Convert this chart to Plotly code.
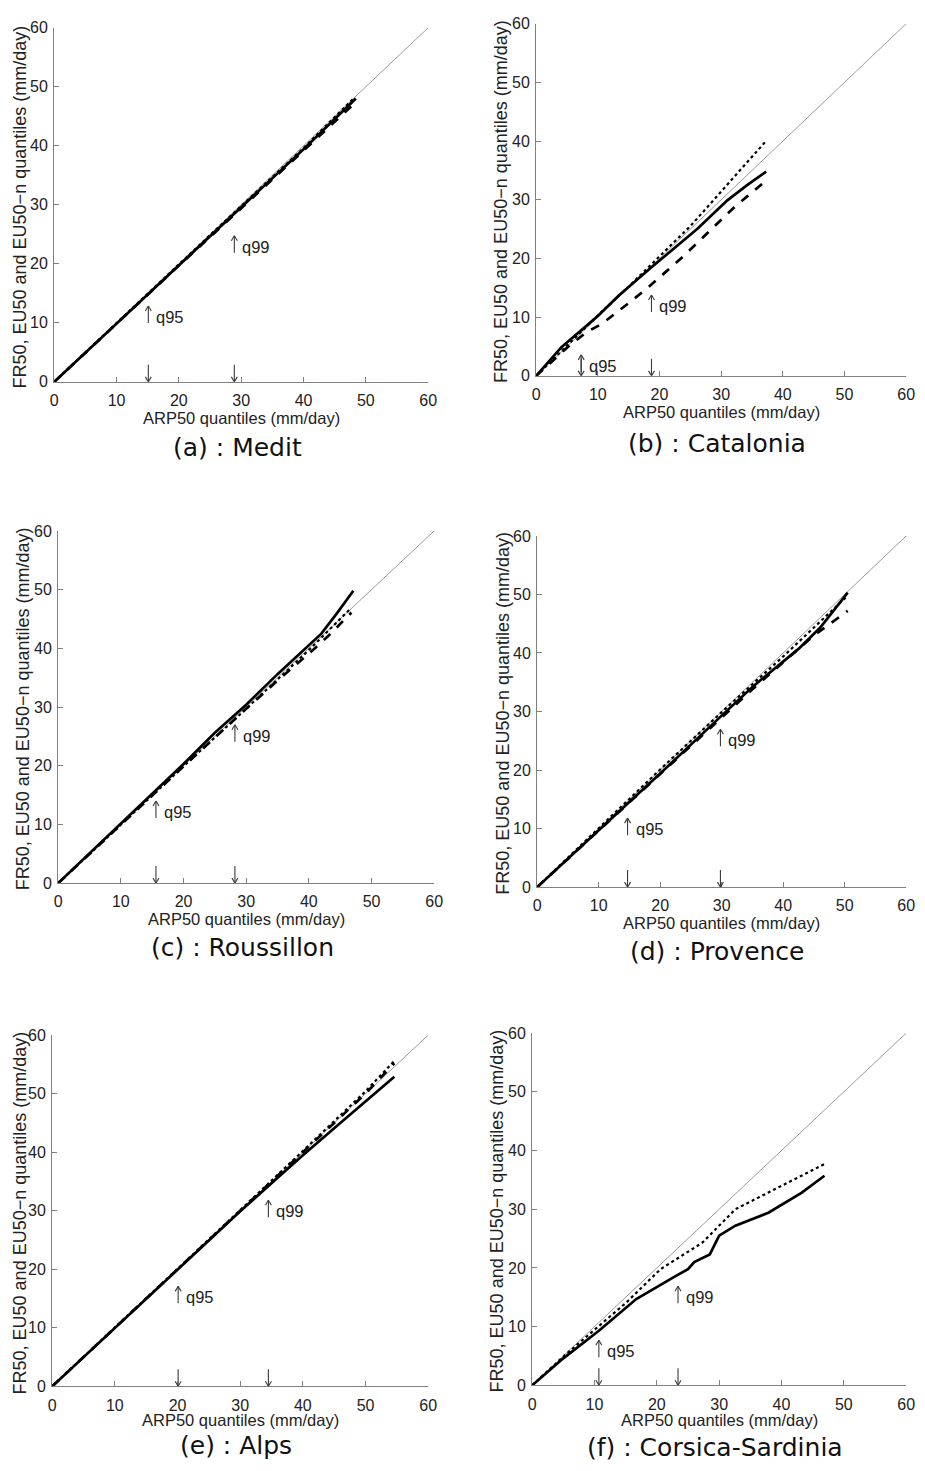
import plotly.graph_objects as go

W, H = 925, 1471
# observed mapping of figure pixels to the photographed page (offset + slight scale);
# layout targets below are given in photographed-page pixels and converted back.
SX, OX = 0.986, 11.8
SY, OY = 0.988, 17.3

# ---------------- data ----------------
captions = ["(a) : Medit", "(b) : Catalonia", "(c) : Roussillon",
            "(d) : Provence", "(e) : Alps", "(f) : Corsica-Sardinia"]
tick_vals = [0, 10, 20, 30, 40, 50, 60]
diag = [0, 60]

medit_fr50_x = [0, 10, 20, 30, 40, 48.4]
medit_fr50_y = [0, 9.9, 19.8, 29.6, 39.4, 48.0]
medit_eu50_x = [0, 10, 20, 30, 40, 48.4]
medit_eu50_y = [0, 9.9, 19.7, 29.4, 39.1, 47.4]
medit_eu50n_x = [0, 10, 20, 30, 40, 48.2]
medit_eu50n_y = [0, 10.0, 19.9, 29.8, 39.6, 48.2]

cat_fr50_x = [0, 4.1, 10, 13.4, 18.7, 23, 26.2, 31, 34.1, 37.3]
cat_fr50_y = [0, 4.9, 10.2, 13.7, 18.5, 22.2, 25.1, 29.9, 32.4, 34.8]
cat_eu50_x = [0, 5, 8.1, 10.7, 15, 18.2, 24, 29.4, 32, 37.3]
cat_eu50_y = [0, 4.8, 7.4, 8.9, 12.4, 15.1, 20.5, 25.9, 28.6, 33.3]
cat_eu50n_x = [0, 5, 10, 15, 20, 25, 29.4, 33, 37.1]
cat_eu50n_y = [0, 5.1, 10.3, 15.2, 20.3, 25.5, 30.7, 35.0, 39.8]

rou_fr50_x = [0, 10, 20, 25, 30, 35, 40, 42, 44.5, 47.1]
rou_fr50_y = [0, 10.2, 20.3, 25.6, 30.4, 35.6, 40.5, 42.5, 46.0, 49.8]
rou_eu50_x = [0, 10, 20, 30, 35, 40, 43, 46.8]
rou_eu50_y = [0, 10.0, 19.9, 29.7, 34.5, 39.1, 42.0, 46.1]
rou_eu50n_x = [0, 10, 20, 30, 40, 46.5]
rou_eu50n_y = [0, 10.0, 19.9, 29.7, 39.7, 46.6]

pro_fr50_x = [0, 10, 20, 30, 35, 42.5, 46, 50.5]
pro_fr50_y = [0, 9.7, 19.4, 29.3, 34.2, 40.7, 44.3, 50.3]
pro_eu50_x = [0, 10, 20, 30, 35, 40, 45, 50.5]
pro_eu50_y = [0, 9.7, 19.3, 29.1, 33.8, 38.4, 43.0, 47.2]
pro_eu50n_x = [0, 10, 20, 30, 40, 50.3]
pro_eu50n_y = [0, 10.1, 20.1, 29.9, 39.4, 49.6]

alp_fr50_x = [0, 10, 20, 30, 35, 40, 45, 50, 54.6]
alp_fr50_y = [0, 10.0, 20.0, 29.9, 34.7, 39.5, 44.1, 48.6, 52.9]
alp_eu50_x = [0, 10, 20, 30, 40, 45, 50, 54.6]
alp_eu50_y = [0, 10.0, 20.0, 30.0, 40.0, 45.0, 50.0, 55.2]
alp_eu50n_x = [0, 10, 20, 30, 40, 45, 50, 54.6]
alp_eu50n_y = [0, 10.0, 20.1, 30.1, 40.2, 45.3, 50.4, 55.6]

cor_fr50_x = [0, 5, 10.7, 16.7, 23, 25, 26, 27, 28.5, 30, 32.6, 37.9, 43.2, 46.9]
cor_fr50_y = [0, 4.6, 9.3, 14.7, 18.6, 19.8, 21.0, 21.5, 22.3, 25.5, 27.2, 29.4, 32.8, 35.7]
cor_eu50n_x = [0, 5, 10.7, 15.1, 20.6, 27.3, 32.6, 37.9, 43.2, 46.9]
cor_eu50n_y = [0, 4.9, 10.1, 14.1, 19.8, 24.3, 30.0, 32.8, 35.7, 37.7]

# quantile markers (x positions) and label heights
q95 = [15.1, 7.3, 15.6, 14.7, 20.1, 10.7]
q99 = [28.9, 18.7, 28.2, 29.8, 34.5, 23.4]
q95_label_y = [11.0, 1.7, 12.1, 9.9, 15.2, 5.8]
q99_label_y = [22.9, 11.9, 25.1, 25.1, 29.9, 15.0]

series = [
    [(medit_fr50_x, medit_fr50_y, "solid"), (medit_eu50_x, medit_eu50_y, "dash"), (medit_eu50n_x, medit_eu50n_y, "dot")],
    [(cat_fr50_x, cat_fr50_y, "solid"), (cat_eu50_x, cat_eu50_y, "dash"), (cat_eu50n_x, cat_eu50n_y, "dot")],
    [(rou_fr50_x, rou_fr50_y, "solid"), (rou_eu50_x, rou_eu50_y, "dash"), (rou_eu50n_x, rou_eu50n_y, "dot")],
    [(pro_fr50_x, pro_fr50_y, "solid"), (pro_eu50_x, pro_eu50_y, "dash"), (pro_eu50n_x, pro_eu50n_y, "dot")],
    [(alp_fr50_x, alp_fr50_y, "solid"), (alp_eu50_x, alp_eu50_y, "dash"), (alp_eu50n_x, alp_eu50n_y, "dot")],
    [(cor_fr50_x, cor_fr50_y, "solid"), (cor_eu50n_x, cor_eu50n_y, "dot")],
]

# ---------------- layout (page-pixel boxes of each panel) ----------------
boxes = [  # left, right, top, bottom
    (54, 428, 29, 383),
    (536, 906, 25, 377),
    (58, 434, 532, 884),
    (537, 906, 537, 888),
    (52, 428, 1036, 1387),
    (532, 906, 1034, 1386),
]
caption_y = [449, 445, 948, 952, 1446, 1448]
xtitle_dy = [36, 36, 36, 36, 34, 35]

SANS = "Liberation Sans, Arial, Helvetica, sans-serif"
TICKFONT = dict(family=SANS, size=16, color="#222")
AXCOL = "#808080"
ARROWCOL = "#3a3a3a"


def px(x):
    return ((x - OX) / SX) / W


def py(y):
    return 1 - ((y - OY) / SY) / H


fig = go.Figure()
annotations = []
shapes = []
layout = dict(width=W, height=H, margin=dict(l=0, r=0, t=0, b=0, pad=0), autosize=False,
              paper_bgcolor="white", plot_bgcolor="white", showlegend=False)


def arrow(xs, ys, xq, yq, up, y_tail_px, y_tip_px):
    """thin arrow with an open V head; pixel offsets relative to data anchor (up = +)"""
    common = dict(type="line", xref=xs, yref=ys, xsizemode="pixel", ysizemode="pixel",
                  xanchor=xq, yanchor=yq, line=dict(color=ARROWCOL, width=1.1), layer="above")
    shapes.append(dict(common, x0=0, x1=0, y0=y_tail_px, y1=y_tip_px))
    d = -5 if up else 5
    shapes.append(dict(common, x0=0, x1=-3, y0=y_tip_px, y1=y_tip_px + d))
    shapes.append(dict(common, x0=0, x1=3, y0=y_tip_px, y1=y_tip_px + d))


for i, (l, r, t, b) in enumerate(boxes):
    n = i + 1
    xs = "x" if n == 1 else f"x{n}"
    ys = "y" if n == 1 else f"y{n}"
    xk = "xaxis" if n == 1 else f"xaxis{n}"
    yk = "yaxis" if n == 1 else f"yaxis{n}"
    layout[xk] = dict(domain=[px(l), px(r)], range=[0, 60], anchor=ys,
                      tickvals=tick_vals, ticks="inside", ticklen=5, tickcolor=AXCOL,
                      showline=True, linecolor=AXCOL, linewidth=1.3,
                      showgrid=False, zeroline=False, tickfont=TICKFONT,
                      ticklabelstandoff=4, fixedrange=True)
    layout[yk] = dict(domain=[py(b), py(t)], range=[0, 60], anchor=xs,
                      tickvals=tick_vals, ticks="inside", ticklen=5, tickcolor=AXCOL,
                      showline=True, linecolor=AXCOL, linewidth=1.3,
                      showgrid=False, zeroline=False, tickfont=TICKFONT,
                      ticklabelstandoff=2, fixedrange=True)

    # 1:1 reference line
    fig.add_trace(go.Scatter(x=diag, y=diag, mode="lines", xaxis=xs, yaxis=ys,
                             line=dict(color="#9a9a9a", width=1), hoverinfo="skip"))
    for sx, sy, dash in series[i]:
        width = 2.2 if dash == "dot" else 2.7
        fig.add_trace(go.Scatter(x=sx, y=sy, mode="lines", xaxis=xs, yaxis=ys,
                                 line=dict(color="black", width=width, dash=dash),
                                 hoverinfo="skip"))

    lab_font = dict(family=SANS, size=16.5, color="#222")
    for qx, qy, name in ((q95[i], q95_label_y[i], "q95"), (q99[i], q99_label_y[i], "q99")):
        # label: up arrow + text
        arrow(xs, ys, qx, qy, True, -6, 11)
        annotations.append(dict(x=qx, y=qy, xref=xs, yref=ys, text=name,
                                showarrow=False, xanchor="left", yanchor="middle",
                                xshift=6, font=lab_font))
        # down arrow touching the x axis
        arrow(xs, ys, qx, 0, False, 17, 0)

    # axis titles
    annotations.append(dict(x=px((l + r) / 2), y=py(b + xtitle_dy[i]), xref="paper", yref="paper",
                            text="ARP50 quantiles (mm/day)", showarrow=False,
                            xanchor="center", yanchor="middle",
                            font=dict(family=SANS, size=16.5, color="#222")))
    annotations.append(dict(x=px(max(l - 35, 19.5)), y=py((t + b) / 2 + 2), xref="paper", yref="paper",
                            text="FR50, EU50 and EU50−n quantiles (mm/day)", showarrow=False,
                            textangle=-90, xanchor="center", yanchor="middle",
                            font=dict(family=SANS, size=18, color="#222")))
    # caption
    annotations.append(dict(x=px((l + r) / 2 - 4), y=py(caption_y[i]), xref="paper", yref="paper",
                            text=captions[i], showarrow=False, xanchor="center", yanchor="middle",
                            font=dict(family="DejaVu Sans, sans-serif", size=25, color="#111")))

layout["annotations"] = annotations
layout["shapes"] = shapes
fig.update_layout(**layout)
fig.write_html("out.html")
